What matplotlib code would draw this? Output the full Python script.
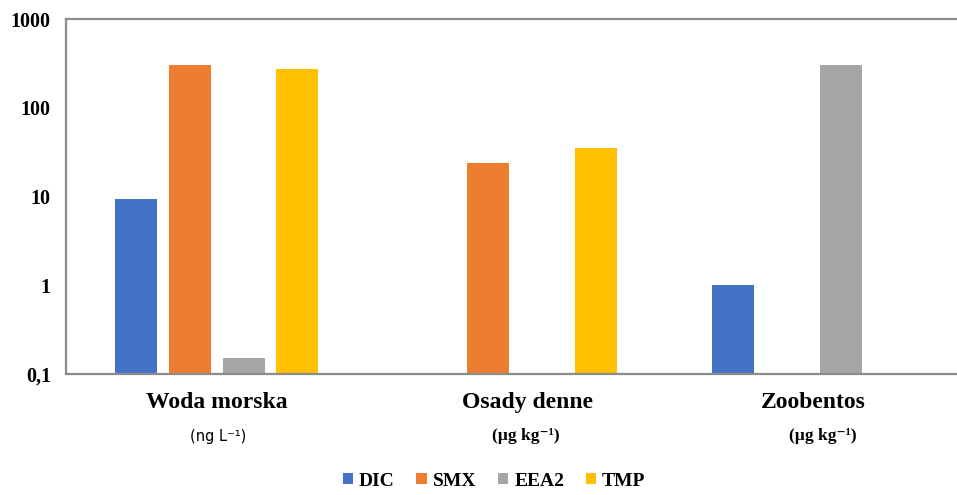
import numpy as np
import matplotlib.pyplot as plt
from matplotlib.ticker import FixedLocator, NullLocator

# stężenia leków w środowisku (skala logarytmiczna, brak = NaN)
sites = ['Woda morska', 'Osady denne', 'Zoobentos']
units = ['(ng L⁻¹)', '(µg kg⁻¹)', '(µg kg⁻¹)']
compounds = ['DIC', 'SMX', 'EEA2', 'TMP']
dic = [9.4, np.nan, 1.0]
smx = [305, 24, np.nan]
eea2 = [0.15, np.nan, 305]
tmp = [272, 35, np.nan]
colors = ['#4472C4', '#ED7D31', '#A5A5A5', '#FFC000']

serif = ['Liberation Serif', 'DejaVu Serif']

fig = plt.figure(figsize=(9.57, 4.95), dpi=100)
ax = fig.add_axes([0.069, 0.2444, 0.931, 0.7172])

x = np.arange(len(sites))
step = 0.18
width = 0.141
for i, (vals, name, c) in enumerate(zip([dic, smx, eea2, tmp], compounds, colors)):
    ax.bar(x + (i - 1.5) * step, vals, width, color=c, label=name, zorder=2)

ax.set_yscale('log')
ax.set_ylim(0.1, 1000)
ax.set_xlim(-0.505, 2.48)
ax.yaxis.set_major_locator(FixedLocator([0.1, 1, 10, 100, 1000]))
ax.yaxis.set_minor_locator(NullLocator())
ax.set_yticklabels(['0,1', '1', '10', '100', '1000'],
                   fontfamily=serif, fontweight='bold', fontsize=14.5)
ax.tick_params(axis='y', length=0, pad=11)
ax.set_xticks([])

for side in ['left', 'bottom', 'top']:
    ax.spines[side].set_color('#8c8c8c')
    ax.spines[side].set_linewidth(1.6)
ax.spines['right'].set_visible(False)

# podpisy grup i jednostek pod osią
name_x = [0.0, 1.04, 2.0]
unit_x = [0.005, 1.035, 2.03]
for nx, ux, s, u in zip(name_x, unit_x, sites, units):
    ax.text(nx, -0.08, s, transform=ax.get_xaxis_transform(), ha='center', va='center',
            fontfamily=serif, fontweight='bold', fontsize=17)
    if s == 'Woda morska':
        ax.text(ux, -0.175, u, transform=ax.get_xaxis_transform(), ha='center', va='center',
                fontfamily=['DejaVu Sans'], fontsize=10.5)
    else:
        ax.text(ux, -0.175, u, transform=ax.get_xaxis_transform(), ha='center', va='center',
                fontfamily=serif, fontweight='bold', fontsize=12.5)

fig.legend(loc='center', bbox_to_anchor=(494 / 957, 1 - 481 / 495), ncol=4, frameon=False,
           prop={'family': serif, 'weight': 'bold', 'size': 14},
           handlelength=0.55, handleheight=0.55, handletextpad=0.3, columnspacing=1.1)

fig.savefig('out.png', dpi=100)
